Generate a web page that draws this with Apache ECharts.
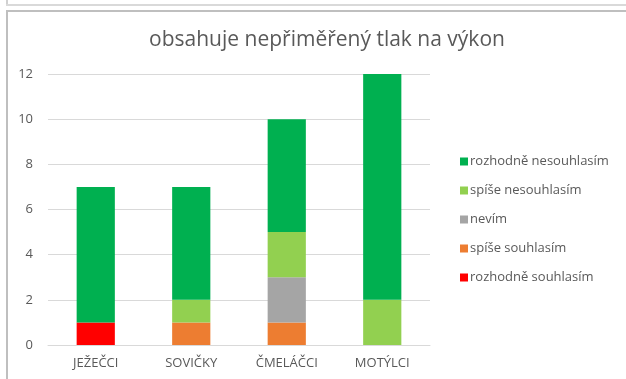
<!DOCTYPE html>
<html>
<head>
<meta charset="utf-8">
<script src="https://cdn.jsdelivr.net/npm/echarts@6/dist/echarts.min.js"></script>
<style>
  html, body { margin: 0; padding: 0; background: #fff; }
  #chart { width: 626px; height: 379px; }
</style>
</head>
<body>
<div id="chart"></div>
<script>
// Groups and answers
const categories = ['JEŽEČCI', 'SOVIČKY', 'ČMELÁČCI', 'MOTÝLCI'];
const seriesNames = ['rozhodně souhlasím', 'spíše souhlasím', 'nevím', 'spíše nesouhlasím', 'rozhodně nesouhlasím'];
const rozhodneSouhlasim = [1, 0, 0, 0];
const spiseSouhlasim = [0, 1, 1, 0];
const nevim = [0, 0, 2, 0];
const spiseNesouhlasim = [0, 1, 2, 2];
const rozhodneNesouhlasim = [6, 5, 5, 10];
const yTicks = [0, 2, 4, 6, 8, 10, 12];

const values = [rozhodneSouhlasim, spiseSouhlasim, nevim, spiseNesouhlasim, rozhodneNesouhlasim];
const colors = ['#FF0000', '#ED7D31', '#A5A5A5', '#92D050', '#00B050'];
const fontFamily = '"Open Sans", "Noto Sans", sans-serif';

const chart = echarts.init(document.getElementById('chart'), null, { renderer: 'canvas' });

chart.setOption({
  animation: false,
  backgroundColor: '#ffffff',
  title: {
    text: 'obsahuje nepřiměřený tlak na výkon',
    left: 322,
    textAlign: 'center',
    top: 25,
    textStyle: { color: '#595959', fontSize: 21, fontWeight: 'normal', fontFamily: fontFamily }
  },
  legend: {
    orient: 'vertical',
    left: 455,
    top: 150,
    itemWidth: 8,
    itemHeight: 8,
    itemGap: 16,
    icon: 'rect',
    data: seriesNames.slice().reverse(),
    textStyle: { color: '#595959', fontSize: 13, fontFamily: fontFamily, padding: [0, 0, 0, -3] }
  },
  grid: { left: 48, right: 196, top: 74, bottom: 34, containLabel: false },
  xAxis: {
    type: 'category',
    data: categories,
    axisTick: { show: false },
    axisLine: { lineStyle: { color: '#d9d9d9', width: 1 } },
    axisLabel: { color: '#595959', fontSize: 13, fontFamily: fontFamily, margin: 12 }
  },
  yAxis: {
    type: 'value',
    min: yTicks[0],
    max: yTicks[yTicks.length - 1],
    interval: 2,
    axisLine: { show: false },
    axisTick: { show: false },
    splitLine: { lineStyle: { color: '#d9d9d9', width: 1 } },
    axisLabel: { color: '#595959', fontSize: 13, fontFamily: fontFamily, margin: 15 }
  },
  series: seriesNames.map((name, i) => ({
    name: name,
    type: 'bar',
    stack: 'total',
    barWidth: '40%',
    data: values[i],
    itemStyle: { color: colors[i] },
    emphasis: { disabled: true }
  })),
  graphic: [
    { type: 'rect', shape: { x: 6, y: 0, width: 2, height: 5 }, style: { fill: '#d0d0d0' }, silent: true },
    { type: 'rect', shape: { x: 6, y: 4, width: 620, height: 2 }, style: { fill: '#d9d9d9' }, silent: true },
    { type: 'rect', shape: { x: 6, y: 10, width: 620, height: 2 }, style: { fill: '#bfbfbf' }, silent: true },
    { type: 'rect', shape: { x: 6, y: 10, width: 2, height: 369 }, style: { fill: '#bfbfbf' }, silent: true }
  ]
});
</script>
</body>
</html>
